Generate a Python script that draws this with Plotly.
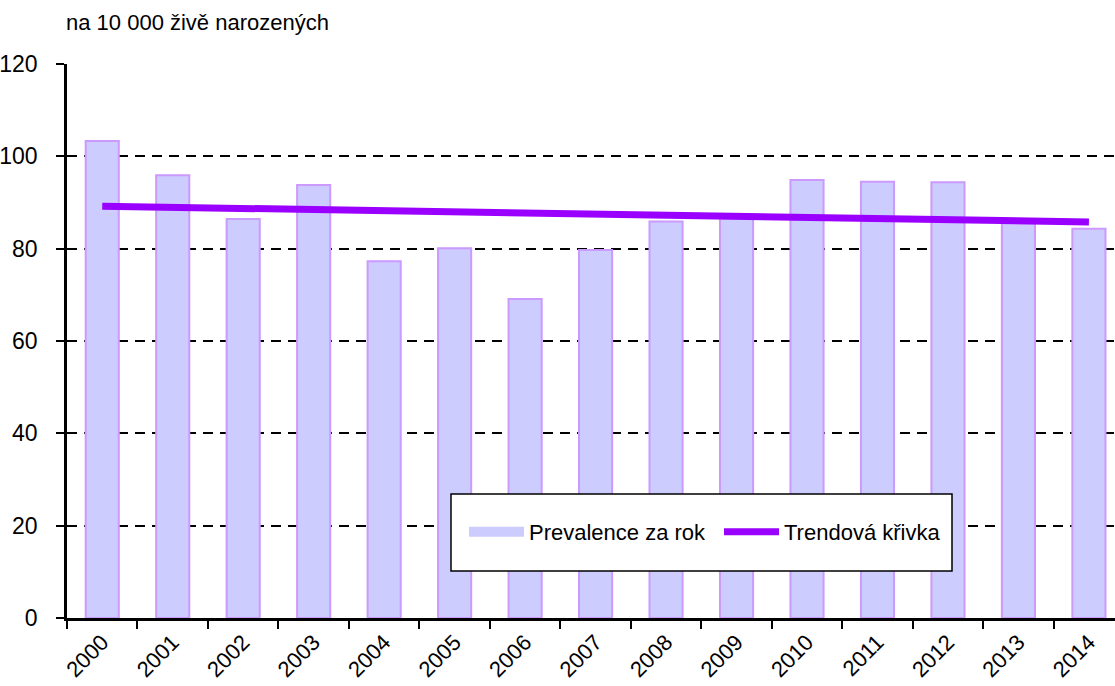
import plotly.graph_objects as go

years = [str(y) for y in range(2000, 2015)]
prevalence = [103.3, 95.9, 86.4, 93.8, 77.3, 80.1, 69.1, 79.7, 85.9, 86.6, 94.9, 94.5, 94.4, 85.5, 84.3]
trend_start, trend_end = 89.2, 85.8
y_ticks = [0, 20, 40, 60, 80, 100, 120]
title_text = "na 10 000 živě narozených"
bar_name = "Prevalence za rok"
line_name = "Trendová křivka"

trend = [trend_start + (trend_end - trend_start) * i / (len(years) - 1) for i in range(len(years))]

FONT = "Liberation Sans, Arial, sans-serif"

fig = go.Figure()
fig.add_trace(go.Bar(
    x=years, y=prevalence, name=bar_name, width=0.47, showlegend=False, legendgroup="prev",
    marker=dict(color="#CCCCFF", line=dict(color="#CC99FF", width=2)),
))
# legend entry for the bars (wide rectangular key like the reference)
fig.add_trace(go.Scatter(
    x=[None], y=[None], name=bar_name, mode="lines", legendgroup="prev",
    line=dict(color="#CCCCFF", width=13),
))
fig.add_trace(go.Scatter(
    x=years, y=trend, name=line_name, mode="lines",
    line=dict(color="#9900FF", width=7),
))

fig.update_layout(
    width=1115, height=686,
    margin=dict(l=67, r=0, t=64, b=68, autoexpand=False),
    paper_bgcolor="white", plot_bgcolor="white",
    font=dict(family=FONT, size=22, color="black"),
    showlegend=True,
    legend=dict(
        orientation="h", x=(464 - 67) / 1048, y=(618 - 532) / 554,
        xanchor="left", yanchor="middle",
        bgcolor="rgba(0,0,0,0)", borderwidth=0,
        font=dict(family=FONT, size=22, color="black"),
        itemwidth=55, entrywidth=185, entrywidthmode="pixels",
    ),
    shapes=[dict(
        type="rect", xref="paper", yref="paper",
        x0=(451 - 67) / 1048, x1=(952 - 67) / 1048,
        y0=(618 - 571) / 554, y1=(618 - 494) / 554,
        line=dict(color="black", width=1.5), fillcolor="white", layer="above",
    )],
    annotations=[dict(
        text=title_text, xref="paper", yref="paper", x=-0.003, y=(618 - 22) / 554,
        xanchor="left", yanchor="middle", showarrow=False,
        font=dict(family=FONT, size=22, color="black"),
    )],
)
fig.update_xaxes(
    type="category", range=[-0.5, 14.37],
    showline=True, linecolor="black", linewidth=2.5,
    ticks="outside", tickson="boundaries", ticklen=8, tickwidth=2, tickcolor="black",
    tickangle=-45, showgrid=False, zeroline=False,
    tickfont=dict(family=FONT, size=22),
)
fig.update_yaxes(
    range=[0, 120], tickvals=y_ticks,
    showline=True, linecolor="black", linewidth=2.5,
    ticks="outside", ticklen=8, tickwidth=2, tickcolor="black",
    showgrid=True, gridcolor="black", gridwidth=2, griddash="10px,7px",
    zeroline=False, ticklabelstandoff=14,
    tickfont=dict(family=FONT, size=23),
)
fig.write_html(
    "out.html",
    config={"displayModeBar": False},
    post_script="document.body.style.margin='0';document.body.style.overflow='hidden';",
)
